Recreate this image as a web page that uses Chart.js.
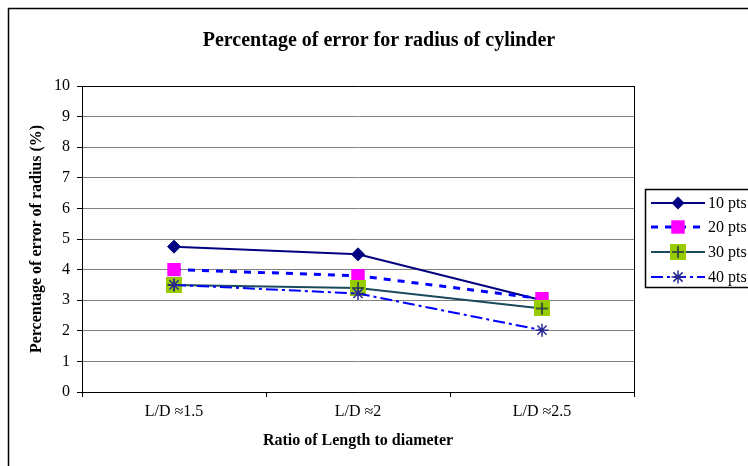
<!DOCTYPE html>
<html>
<head>
<meta charset="utf-8">
<script src="https://cdn.jsdelivr.net/npm/chart.js@4"></script>
<style>
  html, body { margin: 0; padding: 0; background: #fff; }
  #wrap { width: 748px; height: 466px; position: relative; }
</style>
</head>
<body>
<div id="wrap"><canvas id="c" width="748" height="466"></canvas></div>
<script>
const categories = ['L/D \u22481.5', 'L/D \u22482', 'L/D \u22482.5'];
const pts10 = [4.75, 4.5, 3.0];
const pts20 = [4.0, 3.8, 3.05];
const pts30 = [3.5, 3.4, 2.73];
const pts40 = [3.5, 3.22, 2.02];
const seriesNames = ['10 pts', '20 pts', '30 pts', '40 pts'];
const yTicks = [0, 1, 2, 3, 4, 5, 6, 7, 8, 9, 10];

const chartTitle = 'Percentage of error for radius of cylinder';
const xTitle = 'Ratio of Length to diameter';
const yTitle = 'Percentage of error of radius (%)';
const FONT = '"Liberation Serif", "Times New Roman", serif';

// square + cross marker for 30 pts
const crossSq = document.createElement('canvas');
crossSq.width = 16; crossSq.height = 16;
(function () {
  const g = crossSq.getContext('2d');
  g.fillStyle = '#99CC00';
  g.fillRect(0, 0, 16, 16);
  g.strokeStyle = '#1c3550';
  g.lineWidth = 1.5;
  g.beginPath();
  g.moveTo(8, 2); g.lineTo(8, 14);
  g.moveTo(2, 8); g.lineTo(14, 8);
  g.stroke();
})();

const datasets = [
  { label: seriesNames[0], data: pts10, borderColor: '#000080', backgroundColor: '#000080',
    borderWidth: 2, pointStyle: 'rectRot', pointRadius: 6.5, pointBorderWidth: 1,
    pointBackgroundColor: '#000080', pointBorderColor: '#000080', order: 3 },
  { label: seriesNames[1], data: pts20, borderColor: '#0000FF', backgroundColor: '#FF00FF',
    borderWidth: 3, borderDash: [7, 7], pointStyle: 'rect', pointRadius: 9.5, pointBorderWidth: 0,
    pointBackgroundColor: '#FF00FF', pointBorderColor: '#FF00FF', order: 2 },
  { label: seriesNames[2], data: pts30, borderColor: '#1b4a5e', backgroundColor: '#99CC00',
    borderWidth: 2, pointStyle: crossSq, pointRadius: 8, order: 1 },
  { label: seriesNames[3], data: pts40, borderColor: '#0000FF', backgroundColor: '#2a2a90',
    borderWidth: 2, borderDash: [12, 4, 3, 4], pointStyle: 'star', pointRadius: 6.5, pointBorderWidth: 1.5,
    pointBackgroundColor: '#2a2a90', pointBorderColor: '#2a2a90', order: 0 }
];
datasets.forEach(d => { d.fill = false; d.tension = 0; d.pointHoverRadius = d.pointRadius; });

function drawMarker(ctx, ds, x, y) {
  const st = ds.pointStyle;
  const r = ds.pointRadius;
  ctx.save();
  if (st instanceof HTMLCanvasElement) {
    ctx.drawImage(st, x - st.width / 2, y - st.height / 2);
  } else if (st === 'rectRot') {
    ctx.fillStyle = ds.pointBackgroundColor;
    ctx.beginPath();
    ctx.moveTo(x, y - r); ctx.lineTo(x + r, y); ctx.lineTo(x, y + r); ctx.lineTo(x - r, y);
    ctx.closePath(); ctx.fill();
  } else if (st === 'rect') {
    const s = r * Math.SQRT1_2;
    ctx.fillStyle = ds.pointBackgroundColor;
    ctx.fillRect(x - s, y - s, 2 * s, 2 * s);
  } else if (st === 'star') {
    ctx.strokeStyle = ds.pointBorderColor;
    ctx.lineWidth = ds.pointBorderWidth;
    ctx.beginPath();
    for (let a = 0; a < 4; a++) {
      const ang = a * Math.PI / 4;
      ctx.moveTo(x - r * Math.cos(ang), y - r * Math.sin(ang));
      ctx.lineTo(x + r * Math.cos(ang), y + r * Math.sin(ang));
    }
    ctx.stroke();
  }
  ctx.restore();
}

const decor = {
  id: 'decor',
  beforeDraw(chart) {
    const ctx = chart.ctx;
    ctx.save();
    ctx.fillStyle = '#fff';
    ctx.fillRect(0, 0, chart.width, chart.height);
    ctx.strokeStyle = '#000';
    ctx.lineWidth = 1.5;
    ctx.strokeRect(8.5, 8.5, 800, 500);
    ctx.restore();
  },
  afterDraw(chart) {
    const ctx = chart.ctx;
    const a = chart.chartArea;
    ctx.save();
    ctx.strokeStyle = '#000';
    ctx.lineWidth = 1;
    ctx.beginPath();
    ctx.moveTo(Math.round(a.right) + 0.5, a.top);
    ctx.lineTo(Math.round(a.right) + 0.5, a.bottom);
    ctx.stroke();
    // title
    ctx.fillStyle = '#000';
    ctx.font = 'bold 20px ' + FONT;
    ctx.textAlign = 'center';
    ctx.textBaseline = 'middle';
    ctx.fillText(chartTitle, 379, 41);
    // legend
    const lx = 645, ly = 189, lw = 120, lh = 98;
    ctx.lineWidth = 1.5;
    ctx.strokeStyle = '#000';
    ctx.strokeRect(lx + 0.5, ly + 0.5, lw, lh);
    ctx.font = '16px ' + FONT;
    ctx.textAlign = 'left';
    const rows = [203, 227, 252, 277];
    chart.data.datasets.forEach((ds, i) => {
      const y = rows[i];
      ctx.save();
      ctx.strokeStyle = ds.borderColor;
      ctx.lineWidth = ds.borderWidth;
      ctx.setLineDash(ds.borderDash || []);
      ctx.beginPath();
      ctx.moveTo(651, y); ctx.lineTo(705, y);
      ctx.stroke();
      ctx.restore();
      drawMarker(ctx, ds, 678, y);
      ctx.fillStyle = '#000';
      ctx.fillText(ds.label, 708, y + 1);
    });
    ctx.restore();
  }
};

new Chart(document.getElementById('c'), {
  type: 'line',
  data: { labels: categories, datasets },
  plugins: [decor],
  options: {
    responsive: false,
    animation: false,
    devicePixelRatio: 1,
    layout: { padding: { left: 0, top: 86, right: 114, bottom: 0 } },
    plugins: { legend: { display: false }, title: { display: false }, tooltip: { enabled: false } },
    scales: {
      x: {
        type: 'category',
        offset: true,
        afterFit(s) { s.height = 74; },
        grid: { offset: true, drawOnChartArea: false, drawTicks: true, tickLength: 5, tickColor: '#000' },
        border: { color: '#000', width: 1 },
        ticks: { color: '#000', padding: 5, font: { family: FONT, size: 16 } },
        title: { display: true, text: xTitle, color: '#000', padding: { top: 0, bottom: 16 },
                 font: { family: FONT, size: 16, weight: 'bold' } }
      },
      y: {
        min: 0, max: 10,
        afterFit(s) { s.width = 82; },
        afterBuildTicks(s) { s.ticks = yTicks.map(v => ({ value: v })); },
        grid: { color: ctx => (ctx.tick && ctx.tick.value === 10) ? '#000' : '#808080',
                tickLength: 5, tickColor: '#000', lineWidth: 1 },
        border: { color: '#000', width: 1 },
        ticks: { color: '#000', padding: 7, font: { family: FONT, size: 16 } },
        title: { display: true, text: yTitle, color: '#000', padding: { top: 27, bottom: 0 },
                 font: { family: FONT, size: 16, weight: 'bold' } }
      }
    }
  }
});
</script>
</body>
</html>
